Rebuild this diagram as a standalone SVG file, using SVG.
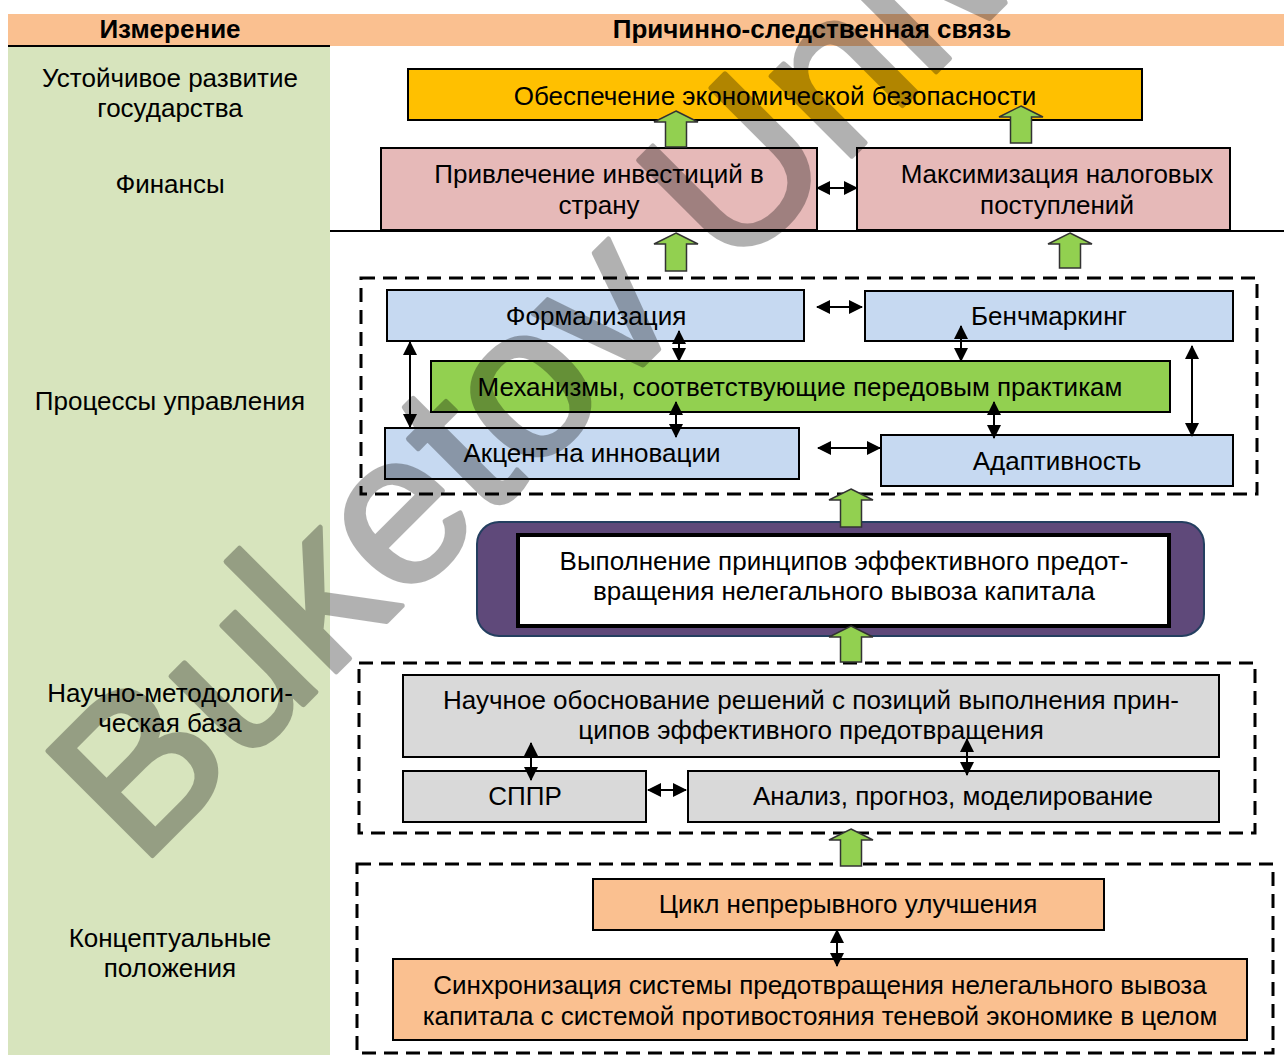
<svg xmlns="http://www.w3.org/2000/svg" width="1284" height="1055" viewBox="0 0 1284 1055">
<style>
text{font-family:"Liberation Sans",Arial,sans-serif;font-size:26px;fill:#000;text-anchor:middle}
.hd{font-weight:bold}
.box{stroke:#000;stroke-width:2}
.dash{fill:none;stroke:#000;stroke-width:3;stroke-dasharray:14 8}
.dbl{stroke:#000;stroke-width:2;fill:none;marker-start:url(#ah);marker-end:url(#ah)}
.blk{fill:#92d050;stroke:#333;stroke-width:1.5;stroke-linejoin:miter}
.wm{font-size:215px;fill:#000;stroke:#000;stroke-width:5;stroke-linejoin:round;opacity:0.3;text-anchor:start}
</style>
<defs>
<marker id="ah" markerUnits="userSpaceOnUse" markerWidth="14" markerHeight="14" refX="13" refY="7" orient="auto-start-reverse">
<path d="M0,0 L14,7 L0,14 Z" fill="#000"/>
</marker>
</defs>
<rect width="1284" height="1055" fill="#fff"/>
<g id="header">
<rect x="8" y="14" width="1276" height="32" fill="#fac090"/>
<line x1="8" y1="46" x2="330" y2="46" stroke="#000" stroke-width="2"/>
<text class="hd" x="170" y="38">Измерение</text>
<text class="hd" x="812" y="38">Причинно-следственная связь</text>
</g>
<g id="left-column">
<rect x="8" y="47" width="322" height="1008" fill="#d7e4bd"/>
<text x="170" y="87">Устойчивое развитие</text>
<text x="170" y="117">государства</text>
<text x="170" y="193">Финансы</text>
<text x="170" y="410">Процессы управления</text>
<text x="170" y="702">Научно-методологи-</text>
<text x="170" y="732">ческая база</text>
<text x="170" y="947">Концептуальные</text>
<text x="170" y="977">положения</text>
</g>
<line id="finance-line" x1="330" y1="231" x2="1284" y2="231" stroke="#000" stroke-width="2"/>
<g id="groups">
<rect class="dash" x="361" y="278" width="896" height="216"/>
<rect class="dash" x="359" y="663" width="896" height="170"/>
<rect class="dash" x="357" y="864" width="916" height="189"/>
</g>
<g id="n-security"><rect class="box" x="408" y="69" width="734" height="51" fill="#ffc000"/><text x="775" y="105">Обеспечение экономической безопасности</text></g>
<g id="n-invest"><rect class="box" x="381" y="148" width="436" height="82" fill="#e6b9b8"/><text x="599" y="183">Привлечение инвестиций в</text><text x="599" y="214">страну</text></g>
<g id="n-tax"><rect class="box" x="857" y="148" width="373" height="82" fill="#e6b9b8"/><text x="1057" y="183">Максимизация налоговых</text><text x="1057" y="214">поступлений</text></g>
<g id="n-formal"><rect class="box" x="387" y="290" width="417" height="51" fill="#c6d9f1"/><text x="596" y="325">Формализация</text></g>
<g id="n-bench"><rect class="box" x="865" y="291" width="368" height="50" fill="#c6d9f1"/><text x="1049" y="325">Бенчмаркинг</text></g>
<g id="n-mech"><rect class="box" x="431" y="361" width="739" height="51" fill="#92d050"/><text x="800" y="396">Механизмы, соответствующие передовым практикам</text></g>
<g id="n-innov"><rect class="box" x="385" y="428" width="414" height="51" fill="#c6d9f1"/><text x="592" y="462">Акцент на инновации</text></g>
<g id="n-adapt"><rect class="box" x="881" y="435" width="352" height="51" fill="#c6d9f1"/><text x="1057" y="470">Адаптивность</text></g>
<g id="n-principles">
<rect x="477" y="522" width="727" height="114" rx="22" fill="#5f497a" stroke="#243f60" stroke-width="2"/>
<rect x="518" y="535" width="651" height="91" fill="#fff" stroke="#000" stroke-width="4"/>
<text x="844" y="570">Выполнение принципов эффективного предот-</text>
<text x="844" y="600">вращения нелегального вывоза капитала</text>
</g>
<g id="n-science"><rect class="box" x="403" y="675" width="816" height="82" fill="#d9d9d9"/><text x="811" y="709">Научное обоснование решений с позиций выполнения прин-</text><text x="811" y="739">ципов эффективного предотвращения</text></g>
<g id="n-dss"><rect class="box" x="403" y="771" width="243" height="51" fill="#d9d9d9"/><text x="525" y="805">СППР</text></g>
<g id="n-analysis"><rect class="box" x="688" y="771" width="531" height="51" fill="#d9d9d9"/><text x="953" y="805">Анализ, прогноз, моделирование</text></g>
<g id="n-cycle"><rect class="box" x="593" y="879" width="511" height="51" fill="#fac090"/><text x="848" y="913">Цикл непрерывного улучшения</text></g>
<g id="n-sync"><rect class="box" x="393" y="959" width="854" height="81" fill="#fac090"/><text x="820" y="994">Синхронизация системы предотвращения нелегального вывоза</text><text x="820" y="1025">капитала с системой противостояния теневой экономике в целом</text></g>
<g id="connectors">
<path class="blk" d="M676,111 L698,122 L686.5,122 L686.5,147 L665.5,147 L665.5,122 L654,122 Z"/>
<path class="blk" d="M1021,106 L1043,117 L1031.5,117 L1031.5,143 L1010.5,143 L1010.5,117 L999,117 Z"/>
<path class="blk" d="M676,233 L698,244 L686.5,244 L686.5,271 L665.5,271 L665.5,244 L654,244 Z"/>
<path class="blk" d="M1070,233 L1092,244 L1080.5,244 L1080.5,268 L1059.5,268 L1059.5,244 L1048,244 Z"/>
<path class="blk" d="M851,489 L873,500 L861.5,500 L861.5,527 L840.5,527 L840.5,500 L829,500 Z"/>
<path class="blk" d="M851,626 L873,637 L861.5,637 L861.5,662 L840.5,662 L840.5,637 L829,637 Z"/>
<path class="blk" d="M851,829 L873,840 L861.5,840 L861.5,866 L840.5,866 L840.5,840 L829,840 Z"/>
<line class="dbl" x1="817" y1="188" x2="857" y2="188"/>
<line class="dbl" x1="817" y1="307" x2="862" y2="307"/>
<line class="dbl" x1="818" y1="448" x2="880" y2="448"/>
<line class="dbl" x1="410" y1="342" x2="410" y2="427"/>
<line class="dbl" x1="1192" y1="346" x2="1192" y2="436"/>
<line class="dbl" x1="679" y1="331" x2="679" y2="361"/>
<line class="dbl" x1="961" y1="326" x2="961" y2="361"/>
<line class="dbl" x1="676" y1="402" x2="676" y2="437"/>
<line class="dbl" x1="994" y1="402" x2="994" y2="438"/>
<line class="dbl" x1="531" y1="743" x2="531" y2="780"/>
<line class="dbl" x1="967" y1="739" x2="967" y2="775"/>
<line class="dbl" x1="648" y1="790" x2="686" y2="790"/>
<line class="dbl" x1="837" y1="930" x2="837" y2="966"/>
</g>
<text id="watermark" class="wm" x="140" y="868" transform="rotate(-45 140 868)">Buketov Unive</text>
</svg>
